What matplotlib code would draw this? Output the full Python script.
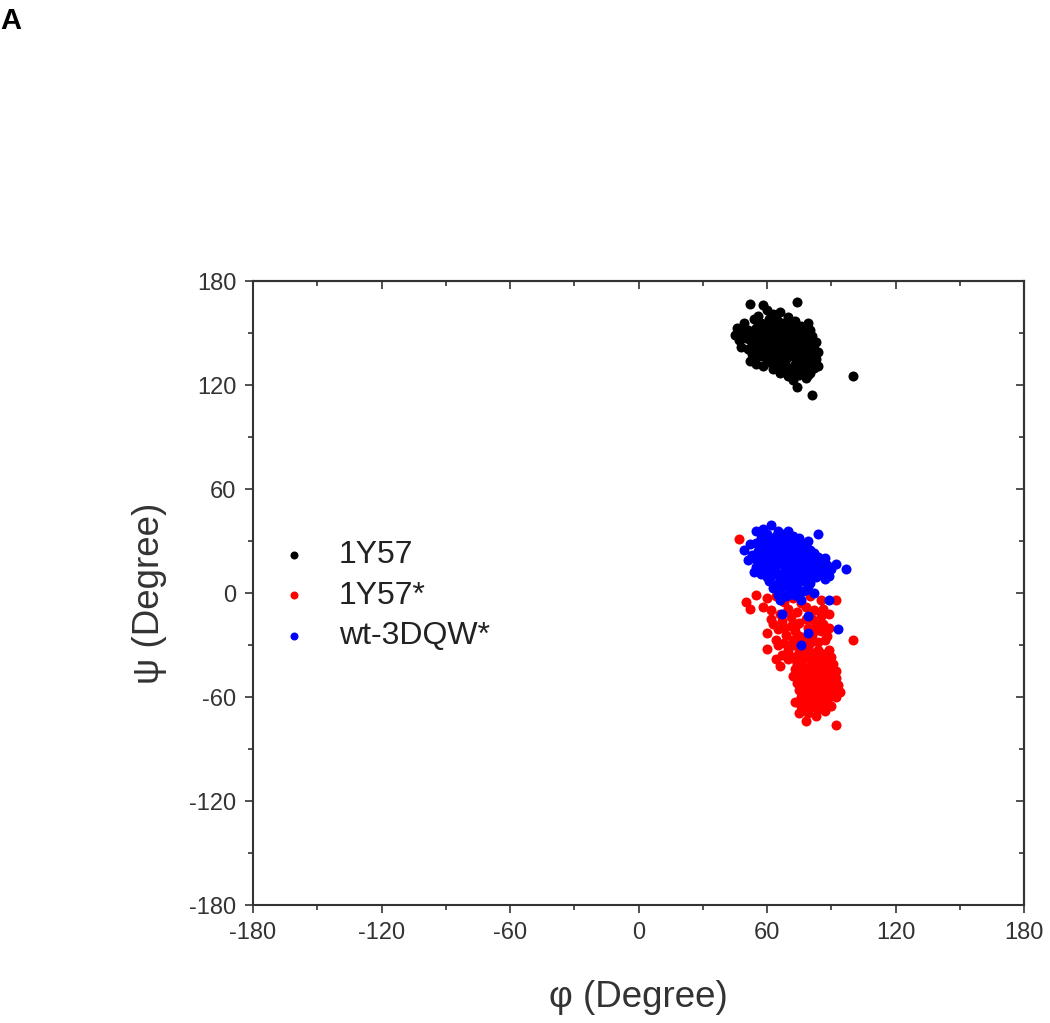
import matplotlib
matplotlib.use("Agg")
import matplotlib.pyplot as plt
from matplotlib.ticker import MultipleLocator

plt.rcParams['font.family'] = ['Liberation Sans', 'DejaVu Sans']
plt.rcParams['axes.unicode_minus'] = False

# ---- data (phi, psi) ----
black_phi = [52, 58, 74, 60, 63, 66, 56, 70, 54, 61, 65, 68, 73, 79, 49, 58, 76,
             46, 48, 51, 53, 55, 57, 59, 61, 62, 64, 66, 67, 69, 71, 72, 74, 76, 78, 80,
             45, 50, 52, 56, 58, 60, 63, 65, 68, 70, 73, 75, 77, 81, 83,
             48, 51, 54, 56, 59, 61, 63, 64, 66, 68, 70, 71, 73, 74, 76, 78, 79, 82, 84,
             53, 57, 60, 62, 65, 67, 69, 72, 75, 77, 80, 83,
             52, 55, 58, 60, 63, 65, 67, 69, 71, 73, 74, 76, 78, 80, 82, 84, 66, 70, 75, 78, 72,
             100, 81, 74, 79,
             57, 63, 69, 72, 50, 54, 60, 65, 70, 74, 79, 47, 55, 58, 62, 67, 72, 76, 80,
             54, 61, 64, 68, 71, 74, 78, 81, 63, 68, 73, 77]
black_psi = [167, 166, 168, 163, 161, 162, 160, 159, 158, 158, 157, 156, 157, 156, 156, 155, 154,
             153, 151, 152, 150, 153, 151, 149, 153, 150, 152, 149, 153, 151, 150, 153, 149, 151, 150, 152,
             149, 147, 146, 147, 145, 146, 147, 145, 147, 146, 145, 147, 146, 148, 145,
             142, 141, 143, 140, 142, 139, 143, 140, 142, 139, 141, 144, 140, 142, 139, 142, 140, 141, 139,
             138, 137, 136, 138, 136, 137, 135, 137, 136, 134, 136, 135,
             134, 132, 131, 133, 132, 130, 133, 131, 129, 132, 128, 131, 129, 127, 130, 131, 127, 125, 126, 124, 123,
             125, 114, 119, 126,
             156, 155, 154, 155, 150, 148, 151, 150, 148, 152, 145, 146, 144, 140, 144, 145, 142, 144, 143,
             135, 134, 137, 141, 138, 134, 137, 133, 129, 128, 127, 132]

red_phi = [55, 60, 64, 68, 72, 76, 80, 85, 92, 52, 58, 62, 66, 70, 74, 78, 82, 86, 89, 47, 50,
           60, 63, 65, 67, 69, 71, 73, 75, 77, 79, 81, 83, 85, 87, 89, 64, 68, 72, 76, 80, 84, 100, 62,
           60, 64, 66, 70, 72, 74, 75, 77, 78, 79, 80, 81, 82, 83, 84, 85, 86, 87, 88, 90, 91, 73, 76, 89,
           72, 74, 75, 76, 77, 78, 79, 80, 81, 82, 83, 84, 85, 86, 87, 88, 89, 90, 91, 92, 93, 80, 86, 76, 84, 94,
           73, 76, 78, 80, 82, 84, 86, 88, 90, 79, 83, 87, 78, 92, 75,
           78, 80, 83, 85, 87, 89, 88, 90, 86, 83, 81, 79, 77, 75, 77, 80, 83, 86, 89, 92, 92, 82, 84, 76,
           73, 70, 72, 75, 79, 82, 86, 68, 71, 74, 78, 81, 85, 88, 65, 67, 85, 81, 77]
red_psi = [-1, -3, -2, -5, -3, -6, -2, -4, -4, -9, -8, -10, -12, -9, -11, -8, -10, -9, -12, 31, -5,
           -23, -18, -21, -16, -24, -19, -22, -17, -26, -20, -24, -18, -22, -27, -20, -27, -29, -27, -29, -29, -28, -27, -15,
           -32, -38, -42, -33, -37, -41, -34, -38, -43, -32, -36, -40, -44, -34, -38, -42, -35, -39, -44, -37, -41, -44, -45, -33,
           -48, -52, -56, -49, -53, -58, -47, -51, -55, -59, -48, -52, -56, -50, -54, -58, -47, -51, -55, -49, -53, -46, -46, -60, -60, -57,
           -63, -65, -62, -66, -63, -67, -64, -62, -65, -69, -71, -68, -74, -76, -69,
           -35, -42, -46, -48, -44, -42, -50, -56, -59, -61, -58, -61, -57, -52, -47, -55, -53, -53, -60, -60, -45, -37, -33, -41,
           -38, -38, -30, -25, -27, -22, -18, -20, -14, -18, -15, -15, -13, -25, -30, -36, -65, -66, -65]

blue_phi = [55, 58, 62, 65, 70, 84, 60, 64, 67, 72, 57, 75, 49,
            52, 55, 58, 60, 62, 64, 66, 68, 70, 72, 74, 76, 78, 80, 56, 59, 61, 63, 65, 67, 69, 71, 73, 75, 77, 82, 53,
            51, 54, 56, 58, 60, 61, 63, 64, 66, 67, 69, 70, 72, 73, 75, 76, 78, 79, 81, 83, 85, 88, 92, 97, 55, 59,
            54, 57, 60, 62, 64, 66, 68, 70, 71, 73, 75, 77, 79, 81, 83, 86, 89, 61, 65, 69, 72, 76, 80,
            63, 66, 68, 71, 74, 77, 79, 65, 69, 73, 76, 82,
            67, 79, 79, 76, 93, 89, 66,
            57, 61, 65, 69, 74, 79, 62, 66, 70, 74, 79, 84, 87, 58, 62, 65, 68, 71, 74, 77, 80, 84, 90,
            57, 60, 63, 67, 70, 74, 78, 82, 87, 67, 72, 75, 70, 78]
blue_psi = [36, 37, 39, 36, 36, 34, 34, 33, 34, 33, 32, 32, 25,
            28, 29, 27, 30, 28, 26, 29, 27, 30, 28, 26, 29, 27, 25, 24, 23, 25, 22, 24, 22, 25, 23, 24, 22, 23, 23, 22,
            19, 20, 17, 19, 21, 17, 19, 16, 20, 17, 19, 15, 20, 17, 18, 15, 20, 17, 19, 16, 18, 16, 17, 14, 15, 15,
            12, 11, 13, 10, 12, 9, 12, 10, 13, 9, 12, 10, 13, 11, 9, 12, 10, 7, 6, 7, 6, 7, 6,
            3, 1, 4, 2, 3, 1, 4, -1, -2, -1, -4, 0,
            -12, -13, -23, -30, -21, -4, -4,
            30, 31, 31, 32, 30, 30, 25, 26, 25, 21, 22, 21, 20, 22, 20, 18, 21, 18, 15, 16, 15, 14, 14,
            14, 9, 14, 11, 8, 11, 8, 12, 8, 4, 5, 0, -1, 2]

labels = ['1Y57', '1Y57*', 'wt-3DQW*']
colors = ['black', '#ff0000', '#0000ff']
ticks = [-180, -120, -60, 0, 60, 120, 180]

fig = plt.figure(figsize=(10.5, 10.23), dpi=100)
ax = fig.add_axes([0.241, 0.1153, 0.7343, 0.61])

s = 52
ax.scatter(black_phi, black_psi, s=s, c=colors[0], linewidths=0, label=labels[0], zorder=3)
ax.scatter(red_phi, red_psi, s=s, c=colors[1], linewidths=0, label=labels[1], zorder=3)
ax.scatter(blue_phi, blue_psi, s=s, c=colors[2], linewidths=0, label=labels[2], zorder=3)

ax.set_xlim(-180, 180)
ax.set_ylim(-180, 180)
ax.set_xticks(ticks)
ax.set_yticks(ticks)
ax.xaxis.set_minor_locator(MultipleLocator(30))
ax.yaxis.set_minor_locator(MultipleLocator(30))

spine_c = '#333333'
for sp in ax.spines.values():
    sp.set_linewidth(1.5)
    sp.set_color(spine_c)

ax.tick_params(which='major', direction='out', length=6, width=1.2, colors=spine_c,
               labelsize=17, labelcolor='#333333', top=False, right=False, pad=6)
ax.tick_params(which='minor', direction='out', length=3.5, width=1.2, colors=spine_c,
               top=False, right=False)

secx = ax.secondary_xaxis('top')
secx.set_xticks(ticks)
secx.xaxis.set_minor_locator(MultipleLocator(30))
secx.tick_params(which='major', direction='in', length=6, width=1.2, colors=spine_c, labeltop=False)
secx.tick_params(which='minor', direction='in', length=3.5, width=1.2, colors=spine_c)
secx.spines['top'].set_linewidth(1.5)
secx.spines['top'].set_color(spine_c)

secy = ax.secondary_yaxis('right')
secy.set_yticks(ticks)
secy.yaxis.set_minor_locator(MultipleLocator(30))
secy.tick_params(which='major', direction='in', length=6, width=1.2, colors=spine_c, labelright=False)
secy.tick_params(which='minor', direction='in', length=3.5, width=1.2, colors=spine_c)
secy.spines['right'].set_linewidth(1.5)
secy.spines['right'].set_color(spine_c)

ax.set_xlabel('φ (Degree)', fontsize=26.5, color='#333333', labelpad=26)
ax.set_ylabel('ψ (Degree)', fontsize=26.5, color='#333333', labelpad=16)

leg = ax.legend(loc='upper left', bbox_to_anchor=(0.0156, 0.605), frameon=False,
                fontsize=23, markerscale=0.8, handlelength=1.0, handletextpad=0.9,
                labelspacing=0.33, borderaxespad=0)
for t in leg.get_texts():
    t.set_color('#222222')

fig.text(0.0, 0.993, 'A', fontsize=21, fontweight='bold', ha='left', va='top')

fig.savefig('out.png', dpi=100)
